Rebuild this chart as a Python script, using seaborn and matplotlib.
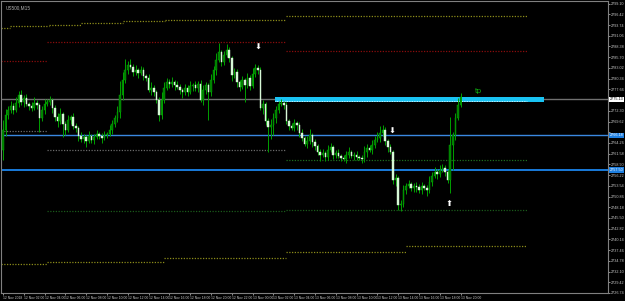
import matplotlib
matplotlib.use("Agg")
import matplotlib.pyplot as plt
from matplotlib.transforms import blended_transform_factory
import seaborn as sns
import numpy as np
import pandas as pd

# ---------------- data ----------------
title = "US500,M15"
first_open = 2762.50
closes = [
    2767.50, 2771.25, 2772.50, 2773.50, 2772.50, 2774.25, 2776.25, 2774.50, 2775.50, 2774.00,
    2773.50, 2773.00, 2774.25, 2773.75, 2770.50, 2772.50, 2774.00, 2774.50, 2775.00, 2773.00,
    2770.75, 2769.75, 2771.50, 2769.00, 2767.50, 2770.00, 2770.75, 2768.50, 2768.00, 2766.00,
    2765.25, 2765.75, 2764.75, 2766.00, 2765.00, 2765.75, 2766.50, 2766.00, 2765.50, 2766.25,
    2766.50, 2767.50, 2769.00, 2770.50, 2772.00, 2776.25, 2780.00, 2782.50, 2783.75, 2783.25,
    2782.00, 2782.50, 2781.75, 2782.50, 2781.00, 2780.50, 2777.50, 2778.00, 2777.00, 2775.00,
    2771.25, 2775.00, 2778.00, 2779.50, 2779.00, 2779.50, 2778.75, 2778.25, 2777.50, 2777.00,
    2778.00, 2777.00, 2778.50, 2778.75, 2778.00, 2779.00, 2775.00, 2777.50, 2778.75, 2777.00,
    2780.00, 2782.50, 2785.00, 2787.00, 2784.50, 2786.25, 2787.50, 2785.50, 2781.25, 2782.00,
    2779.50, 2778.25, 2780.00, 2778.75, 2780.50, 2778.50, 2781.50, 2783.00, 2782.50, 2773.00,
    2774.00, 2769.75, 2768.25, 2768.75, 2770.50, 2772.50, 2774.00, 2774.25, 2773.75, 2769.75,
    2768.50, 2768.00, 2769.25, 2768.75, 2766.75, 2765.50, 2764.00, 2764.75, 2766.25, 2764.50,
    2763.50, 2762.00, 2761.25, 2761.75, 2760.75, 2762.50, 2763.25, 2761.25, 2761.75, 2761.00,
    2760.50, 2760.25, 2761.25, 2762.00, 2761.00, 2761.25, 2760.75, 2760.50, 2760.25, 2762.00,
    2763.00, 2762.50, 2763.75, 2765.00, 2765.50, 2766.75, 2767.50, 2764.75, 2763.25, 2762.00,
    2755.00, 2755.50, 2748.75, 2749.00, 2752.50, 2753.50, 2754.00, 2753.00, 2753.50, 2753.25,
    2752.50, 2753.50, 2753.00, 2752.50, 2754.50, 2756.00, 2757.00, 2756.50, 2757.50, 2758.00,
    2757.00, 2755.00, 2763.75, 2766.25, 2770.50, 2773.75, 2775.75]
upper_wick = [
    2.5, 1.5, 1.0, 1.25, 0.75, 1.5, 1.0, 1.25, 0.75, 1.0,
    0.5, 1.0, 1.5, 0.75, 0.5, 1.0, 1.25, 0.75, 1.0, 0.5,
    0.75, 1.0, 1.5, 0.5, 0.75, 1.25, 0.5, 1.0, 0.75, 0.5,
    1.0, 0.75, 0.5, 1.25, 0.5, 0.75, 1.0, 0.5, 0.75, 1.0,
    0.5, 1.25, 1.0, 0.75, 1.5, 3.5, 2.0, 2.75, 1.0, 1.5,
    0.75, 1.25, 0.5, 1.0, 0.75, 0.5, 1.0, 1.5, 0.75, 0.5,
    0.75, 2.0, 1.5, 1.0, 0.75, 1.25, 0.5, 1.0, 0.75, 0.5,
    1.0, 0.75, 1.25, 0.5, 1.0, 0.75, 1.0, 1.25, 0.75, 0.5,
    1.5, 1.0, 1.75, 2.25, 0.5, 1.0, 1.5, 0.75, 0.5, 1.0,
    0.75, 0.5, 1.0, 0.5, 1.25, 0.75, 1.5, 1.0, 0.75, 0.75,
    1.0, 0.5, 0.75, 1.5, 1.25, 1.0, 0.75, 1.0, 0.5, 0.75,
    0.5, 0.75, 1.0, 0.5, 0.75, 1.0, 0.5, 1.25, 1.5, 0.5,
    0.75, 0.5, 0.75, 1.0, 0.5, 1.25, 1.0, 0.5, 0.75, 1.0,
    0.5, 0.75, 1.0, 1.25, 0.5, 0.75, 1.0, 0.5, 0.75, 1.5,
    1.0, 0.75, 1.25, 1.0, 1.5, 1.75, 1.25, 0.75, 0.5, 0.75,
    0.5, 1.0, 0.5, 1.0, 1.25, 0.75, 1.0, 0.5, 0.75, 1.0,
    0.75, 1.0, 0.5, 0.75, 1.5, 1.0, 1.25, 0.75, 1.25, 1.0,
    0.75, 0.5, 7.0, 0.75, 1.25, 1.75, 1.0]
lower_wick = [
    2.5, 1.5, 1.0, 0.75, 1.0, 0.5, 1.0, 0.75, 1.25, 0.5,
    1.0, 0.75, 0.5, 1.0, 3.5, 0.75, 1.0, 0.5, 0.75, 1.25,
    1.0, 1.5, 0.75, 3.25, 1.25, 0.5, 1.0, 0.75, 1.0, 1.25,
    0.75, 1.0, 1.5, 0.5, 0.75, 1.0, 0.5, 0.75, 1.25, 0.5,
    0.75, 0.5, 1.0, 0.75, 1.0, 1.5, 1.25, 0.75, 1.0, 0.5,
    1.0, 0.75, 1.25, 0.5, 1.0, 0.75, 0.5, 1.25, 1.0, 0.75,
    1.5, 1.0, 0.75, 0.5, 1.0, 0.75, 1.25, 0.5, 1.0, 1.5,
    0.75, 1.0, 0.5, 1.25, 0.75, 1.0, 0.5, 1.25, 1.0, 7.0,
    1.0, 0.75, 1.25, 0.5, 1.0, 0.75, 0.5, 1.0, 1.5, 0.75,
    1.25, 1.0, 0.5, 4.25, 0.75, 1.0, 0.5, 0.75, 1.0, 0.5,
    1.5, 1.0, 6.25, 3.0, 2.5, 1.25, 0.75, 0.5, 1.0, 0.75,
    1.0, 0.5, 0.75, 1.25, 1.0, 0.75, 0.5, 1.0, 0.75, 1.25,
    1.0, 0.75, 1.5, 0.5, 1.0, 0.75, 0.5, 1.0, 0.75, 0.5,
    0.75, 0.5, 1.0, 0.75, 0.5, 1.0, 0.75, 0.5, 1.0, 0.75,
    1.25, 0.5, 1.0, 0.75, 0.5, 1.0, 0.75, 1.0, 1.25, 0.5,
    1.0, 1.5, 1.25, 1.5, 0.75, 1.0, 0.5, 0.75, 1.0, 1.25,
    0.75, 1.0, 0.5, 1.5, 0.75, 1.0, 0.5, 1.25, 0.75, 0.5,
    1.0, 0.75, 3.25, 6.25, 1.25, 0.5, 0.5]

price_ticks = [2799.10, 2796.42, 2793.74, 2791.06, 2788.38, 2785.70, 2783.02, 2780.34,
               2777.66, 2774.98, 2772.30, 2769.62, 2766.94, 2764.26, 2761.58, 2758.90,
               2756.22, 2753.54, 2750.86, 2748.18, 2745.50, 2742.82, 2740.14, 2737.46,
               2734.78, 2732.10, 2729.42, 2726.74]
date_labels = ["12 Nov 2018", "12 Nov 02:00", "12 Nov 04:00", "12 Nov 06:00", "12 Nov 08:00",
               "12 Nov 10:00", "12 Nov 12:00", "12 Nov 14:00", "12 Nov 16:00", "12 Nov 18:00",
               "12 Nov 20:00", "12 Nov 22:00", "13 Nov 00:00", "13 Nov 02:00", "13 Nov 04:00",
               "13 Nov 06:00", "13 Nov 08:00", "13 Nov 10:00", "13 Nov 12:00", "13 Nov 14:00",
               "13 Nov 16:00", "13 Nov 18:00", "13 Nov 20:00"]
date_label_bars = [0, 8, 16, 24, 32, 40, 48, 56, 64, 72, 80, 88, 96, 104, 112, 120,
                   128, 136, 144, 152, 160, 168, 176]

# horizontal levels
bid_level = 2775.13
blue_level_1 = 2766.18
blue_level_2 = 2757.50
zone_top, zone_bottom = 2775.83, 2774.58
zone_start, zone_end = 104.6, 208.0
zone_dots_price, zone_dots_end = 2774.70, 201.5

# daily / H4 indicator segments: (start bar, end bar, price)
olive_top = [(-0.8, 2.7, 2792.9), (2.7, 17.7, 2793.4), (17.7, 30.0, 2793.7), (30.0, 46.2, 2794.3),
             (46.2, 62.3, 2794.7), (62.3, 93.0, 2794.9), (93.0, 108.8, 2795.0), (108.8, 201.5, 2795.9)]
olive_bottom = [(-0.8, 16.9, 2734.0), (16.9, 62.0, 2734.5), (62.0, 108.8, 2735.5),
                (108.8, 155.0, 2737.0), (155.0, 201.5, 2738.5)]
red_lvls = [(-0.8, 16.9, 2784.75), (16.9, 108.8, 2789.4), (108.8, 201.5, 2787.2)]
grey_lvls = [(-0.8, 16.9, 2767.25), (16.9, 108.8, 2762.6)]
green_lvls = [(108.8, 201.5, 2759.9)]
dkgreen_lvls = [(16.9, 108.8, 2747.3), (108.8, 201.5, 2747.5)]

arrows_down = [(98.1, 2788.25), (149.6, 2767.25)]
arrows_up = [(171.5, 2749.0)]
tp_label = (182.7, 2777.25, "tp")

# ---------------- style ----------------
sns.set_theme(style="dark", rc={"axes.facecolor": "black", "figure.facecolor": "black"})
SMALL = ['Liberation Sans', 'DejaVu Sans']
plt.rcParams['font.family'] = ['DejaVu Sans']

fig = plt.figure(figsize=(6.25, 3.01), dpi=100, facecolor="black")
ax = fig.add_axes([1 / 625, 8 / 301, 607 / 625, 292 / 301])
ax.set_facecolor("black")
ax.set_xlim(-0.77, 232.7)
ax.set_ylim(2726.75, 2799.75)
ax.grid(False)

# ---------------- indicator lines ----------------
def seg_frame(segs):
    rows = []
    for k, (a, b, p) in enumerate(segs):
        rows.append({"x": a, "y": p, "seg": k})
        rows.append({"x": b, "y": p, "seg": k})
    return pd.DataFrame(rows)

dot = (0, (1.0, 1.2))
for segs, col in [(olive_top, "#8c8c1a"), (olive_bottom, "#8c8c1a"), (red_lvls, "#8a0c0c"),
                  (grey_lvls, "#6a6a6a"), (green_lvls, "#1f6e1f"), (dkgreen_lvls, "#1a5a1a")]:
    sns.lineplot(data=seg_frame(segs), x="x", y="y", units="seg", estimator=None,
                 color=col, linewidth=0.9, linestyle=dot, ax=ax, legend=False)

ax.axhline(bid_level, color="#707070", lw=1.0, zorder=2)
ax.axhline(blue_level_1, color="#3a88e0", lw=1.0, zorder=2)
ax.axhline(blue_level_2, color="#1e90ff", lw=1.2, zorder=2)

ax.fill_between([zone_start, zone_end], zone_bottom, zone_top, color="#19c3f3", lw=0, zorder=4)
ax.plot([zone_start, zone_dots_end], [zone_dots_price, zone_dots_price], color="white",
        lw=0.6, linestyle=(0, (1, 1)), zorder=5)

# ---------------- candles ----------------
n = len(closes)
opens = [first_open] + closes[:-1]
xs = np.arange(n)
o = np.array(opens); c = np.array(closes)
hi = np.maximum(o, c) + np.array(upper_wick)
lo = np.minimum(o, c) - np.array(lower_wick)
bull = c >= o
ax.vlines(xs, lo, hi, colors="#00a000", lw=0.7, zorder=6)
body_bottom = np.minimum(o, c)
body_h = np.maximum(np.abs(c - o), 0.2)
ax.bar(xs[bull], body_h[bull], bottom=body_bottom[bull], width=0.62,
       color="#007a00", edgecolor="#00b000", lw=0.3, zorder=7)
ax.bar(xs[~bull], body_h[~bull], bottom=body_bottom[~bull], width=0.62,
       color="#d6f8d6", edgecolor="#d6f8d6", lw=0.3, zorder=7)

# ---------------- markers / text ----------------
for bx, py in arrows_down:
    ax.text(bx, py, "\u2b07", color="white", fontsize=6, ha="center", va="center", zorder=9)
for bx, py in arrows_up:
    ax.text(bx, py, "\u2b06", color="white", fontsize=6, ha="center", va="center", zorder=9)
ax.text(tp_label[0], tp_label[1], tp_label[2], color="#10b010", fontsize=5,
        ha="center", va="center", zorder=9)

fig.text(6 / 625, 1 - 8 / 301, title, color="#b0b0b0", fontsize=3.4, va="center", ha="left",
         family=SMALL)

# ---------------- axes ----------------
for sp in ax.spines.values():
    sp.set_color("#808080")
    sp.set_linewidth(0.8)

box_levels = [bid_level, blue_level_1, blue_level_2]
ytick_text = []
for v in price_ticks:
    near = any(abs(v - b) < 1.0 for b in box_levels)
    ytick_text.append("" if near else f"{v:.2f}")

ax.yaxis.tick_right()
ax.set_yticks(price_ticks)
ax.set_yticklabels(ytick_text, family=SMALL)
ax.tick_params(axis="y", colors="#c8c8c8", labelsize=2.7, length=1.5, width=0.5, pad=0.8,
               left=False, right=True)
ax.set_xticks(date_label_bars)
ax.set_xticklabels(date_labels, family=SMALL)
for lbl in ax.get_xticklabels():
    lbl.set_horizontalalignment("left")
ax.tick_params(axis="x", colors="#c8c8c8", labelsize=2.45, length=1.5, width=0.5, pad=0.5,
               bottom=True, top=False)
ax.set_xlabel(""); ax.set_ylabel("")

tr = blended_transform_factory(ax.transAxes, ax.transData)
ax.text(1.003, bid_level, f"{bid_level:.2f}", transform=tr, fontsize=2.7, color="black",
        va="center", ha="left", zorder=10, clip_on=False, family=SMALL,
        bbox=dict(boxstyle="square,pad=0.15", fc="white", ec="none"))
for lv in (blue_level_1, blue_level_2):
    ax.text(1.003, lv, f"{lv:.2f}", transform=tr, fontsize=2.7, color="white",
            va="center", ha="left", zorder=10, clip_on=False, family=SMALL,
            bbox=dict(boxstyle="square,pad=0.15", fc="#1e7fe0", ec="none"))

fig.savefig("out.png", dpi=100, facecolor="black")
